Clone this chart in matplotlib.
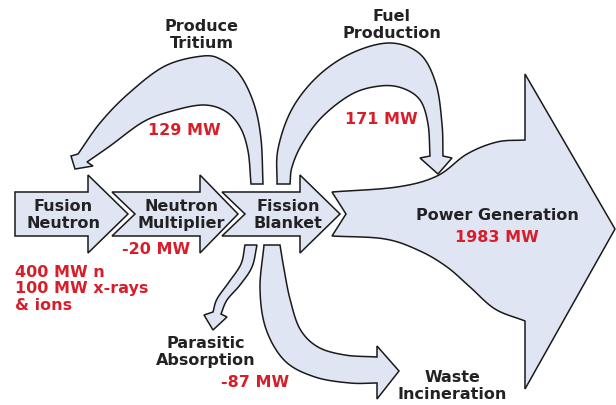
import numpy as np
import matplotlib.pyplot as plt
from matplotlib.patches import Polygon

# labels and values
stage_names = ["Fusion\nNeutron", "Neutron\nMultiplier", "Fission\nBlanket"]
source_lines = ["400 MW n", "100 MW x-rays", "& ions"]
multiplier_mw = -20
branch_names = ["Produce\nTritium", "Fuel\nProduction", "Parasitic\nAbsorption", "Waste\nIncineration"]
branch_mw = [129, 171, -87]
power_name = "Power Generation"
power_mw = 1983

FILL = "#dfe5f2"
EDGE = "#1a1a1a"
RED = "#d71f2b"
INK = "#222222"


def smooth(pts, n=16):
    # catmull-rom through the given points
    p = np.asarray(pts, float)
    p = np.vstack([2 * p[0] - p[1], p, 2 * p[-1] - p[-2]])
    out = []
    t = np.linspace(0, 1, n, endpoint=False)[:, None]
    for i in range(1, len(p) - 2):
        p0, p1, p2, p3 = p[i - 1], p[i], p[i + 1], p[i + 2]
        out.append(0.5 * (2 * p1 + (-p0 + p2) * t
                          + (2 * p0 - 5 * p1 + 4 * p2 - p3) * t ** 2
                          + (-p0 + 3 * p1 - 3 * p2 + p3) * t ** 3))
    out.append(p[-2][None])
    return np.vstack(out)


def shape(ax, *parts, z=2):
    pts = np.vstack([np.asarray(q, float) for q in parts])
    ax.add_patch(Polygon(pts, closed=True, fc=FILL, ec=EDGE, lw=1.1,
                         joinstyle="miter", zorder=z))


fig = plt.figure(figsize=(6.16, 4.06), dpi=100)
ax = fig.add_axes([0, 0, 1, 1])
ax.set_xlim(0, 616)
ax.set_ylim(406, 0)
ax.axis("off")

# big power generation arrow
shape(ax,
      smooth([(332, 193), (397, 188), (437, 177), (467, 155), (497, 143), (525, 141)]),
      [(525, 75), (615, 230), (525, 390)],
      smooth([(525, 322), (495, 310), (470, 288), (447, 268), (420, 252), (385, 240), (332, 237)]),
      [(346, 215)], z=1)

# chain of straight arrows
y0, y1, h0, h1, ym = 193, 237, 176, 254, 215
chain = [(15, None, 88, 128), (112, 135, 200, 238), (222, 245, 300, 340)]
for left, notch, base, tip in chain:
    pts = [(left, y0), (base, y0), (base, h0), (tip, ym), (base, h1), (base, y1), (left, y1)]
    if notch is not None:
        pts.append((notch, ym))
    shape(ax, pts)

# produce tritium (back to the fusion neutron)
shape(ax,
      smooth([(263, 185), (261, 140), (254, 105), (240, 76), (222, 61), (203, 57),
              (165, 67), (128, 95), (100, 124), (78, 155)]),
      [(71, 157), (75, 170), (93, 167)],
      smooth([(87, 163), (110, 147), (143, 123), (172, 112), (203, 106),
              (225, 112), (240, 128), (248, 152), (251, 185)]))

# fuel production (into power generation)
shape(ax,
      smooth([(277, 185), (278, 150), (292, 110), (318, 77), (352, 54), (390, 44),
              (420, 55), (436, 85), (442, 125), (443, 157)]),
      [(452, 159), (438, 175), (420, 159)],
      smooth([(430, 157), (428, 125), (420, 101), (402, 89), (380, 87), (352, 95),
              (322, 118), (302, 145), (292, 168), (290, 185)]), z=3)

# parasitic absorption
shape(ax,
      smooth([(245, 246), (241, 265), (229, 283), (217, 300), (213, 313)]),
      [(204, 316), (213, 331), (227, 318)],
      smooth([(221, 315), (227, 301), (240, 286), (252, 268), (257, 246)]))

# waste incineration
shape(ax,
      smooth([(264, 246), (260, 290), (266, 330), (285, 362), (315, 378), (350, 384), (377, 384)]),
      [(377, 400), (399, 372), (377, 347)],
      smooth([(377, 358), (345, 356), (318, 348), (300, 330), (290, 300), (284, 270), (280, 246)]))

font = dict(family="DejaVu Sans", fontweight="bold", fontsize=11.5, ha="center",
            va="center", linespacing=1.12, zorder=5)

for name, (x, y) in zip(stage_names, [(63, 215), (181, 215), (288, 215)]):
    ax.text(x, y, name, color=INK, **font)

for name, (x, y) in zip(branch_names, [(202, 35), (392, 25), (206, 352), (452, 386)]):
    ax.text(x, y, name, color=INK, **font)

for v, (x, y) in zip(branch_mw, [(184, 131), (381, 119), (255, 383)]):
    ax.text(x, y, f"{v} MW", color=RED, **font)

ax.text(156, 250, f"{multiplier_mw} MW", color=RED, **font)
ax.text(15, 289, "\n".join(source_lines), color=RED,
        **{**font, "ha": "left", "linespacing": 1.12})

ax.text(497, 216, power_name, color=INK, **font)
ax.text(497, 238, f"{power_mw} MW", color=RED, **font)

fig.savefig("out.png", dpi=100)
